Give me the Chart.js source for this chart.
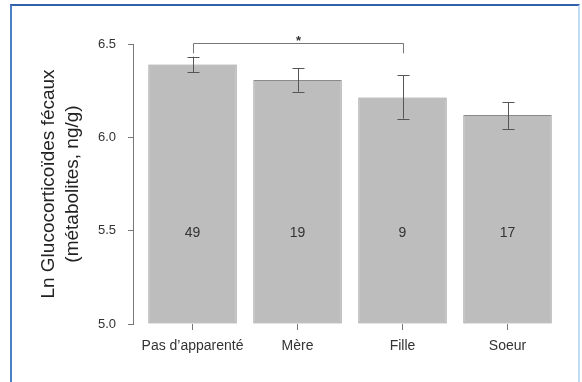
<!DOCTYPE html>
<html>
<head>
<meta charset="utf-8">
<script src="https://cdn.jsdelivr.net/npm/chart.js@4.4.1/dist/chart.umd.min.js"></script>
<style>
  html, body { margin: 0; padding: 0; background: #fff; }
  #wrap { position: relative; width: 582px; height: 382px; overflow: hidden; }
  #frame {
    position: absolute; left: 10px; top: 4px; width: 566px; height: 400px;
    border-top: 2px solid #2f62a8; border-left: 2px solid #4a7fc4; border-right: 2px solid #c4dcf2;
  }
  canvas { position: absolute; left: 0; top: 0; }
</style>
</head>
<body>
<div id="wrap">
  <div id="frame"></div>
  <canvas id="myChart" width="582" height="382"></canvas>
</div>
<script>
// data
const categories = ["Pas d\u2019apparenté", "Mère", "Fille", "Soeur"];
const means = [6.39, 6.307, 6.214, 6.119];
const errLow = [6.348, 6.244, 6.10, 6.045];
const errHigh = [6.432, 6.370, 6.334, 6.187];
const sampleSizes = [49, 19, 9, 17];
const yTicks = [5.0, 5.5, 6.0, 6.5];
// significance bracket between group 0 and group 2
const bracketFrom = 0;
const bracketTo = 2;
const bracketLevel = 6.505;
const bracketLegEnd = 6.45;

const FONT = "'Liberation Sans', Arial, sans-serif";

const extras = {
  id: "extras",
  afterDatasetsDraw(chart) {
    const ctx = chart.ctx;
    const x = chart.scales.x;
    const y = chart.scales.y;
    ctx.save();
    // error bars
    ctx.strokeStyle = "#555";
    ctx.lineWidth = 1;
    categories.forEach((c, i) => {
      const px = Math.round(x.getPixelForValue(i)) + 0.5;
      const top = y.getPixelForValue(errHigh[i]);
      const bot = y.getPixelForValue(errLow[i]);
      ctx.beginPath();
      ctx.moveTo(px, top); ctx.lineTo(px, bot);
      ctx.moveTo(px - 6, Math.round(top) + 0.5); ctx.lineTo(px + 6, Math.round(top) + 0.5);
      ctx.moveTo(px - 6, Math.round(bot) + 0.5); ctx.lineTo(px + 6, Math.round(bot) + 0.5);
      ctx.stroke();
    });
    // n labels
    ctx.fillStyle = "#333";
    ctx.font = "14px " + FONT;
    ctx.textAlign = "center";
    ctx.textBaseline = "middle";
    sampleSizes.forEach((n, i) => {
      ctx.fillText(String(n), x.getPixelForValue(i), y.getPixelForValue(5.5) + 2);
    });
    // bracket
    const x1 = Math.round(x.getPixelForValue(bracketFrom)) + 0.5;
    const x2 = Math.round(x.getPixelForValue(bracketTo)) + 0.5;
    const by = Math.round(y.getPixelForValue(bracketLevel)) + 0.5;
    const ly = y.getPixelForValue(bracketLegEnd);
    ctx.strokeStyle = "#777";
    ctx.beginPath();
    ctx.moveTo(x1, ly); ctx.lineTo(x1, by); ctx.lineTo(x2, by); ctx.lineTo(x2, ly);
    ctx.stroke();
    ctx.fillStyle = "#333";
    ctx.font = "bold 13px " + FONT;
    ctx.fillText("*", (x1 + x2) / 2, by - 2);
    ctx.restore();
  }
};

new Chart(document.getElementById("myChart"), {
  type: "bar",
  data: {
    datasets: [{
      data: means.map((v, i) => ({ x: i, y: v })),
      base: 5,
      backgroundColor: "#bdbdbd",
      borderColor: "#8a8a8a",
      borderWidth: 1,
      borderSkipped: false,
      categoryPercentage: 0.842,
      barPercentage: 1.0
    }]
  },
  options: {
    responsive: false,
    animation: false,
    layout: { padding: { left: 0, top: 44, right: 22, bottom: 0 } },
    plugins: { legend: { display: false }, tooltip: { enabled: false } },
    scales: {
      x: {
        type: "linear",
        offset: false,
        min: -0.567,
        max: 3.5,
        afterBuildTicks: (s) => { s.ticks = categories.map((c, i) => ({ value: i })); },
        afterFit: (s) => { s.height = 58; },
        border: { display: false },
        grid: { offset: false, drawOnChartArea: false, drawTicks: true, tickLength: 6, color: "#777" },
        ticks: {
          autoSkip: false, maxRotation: 0, padding: 8,
          color: "#333", font: { family: FONT, size: 14 },
          callback: (v) => categories[v]
        }
      },
      y: {
        min: 5.0,
        max: 6.5,
        afterBuildTicks: (s) => { s.ticks = yTicks.map((v) => ({ value: v })); },
        afterFit: (s) => { s.width = 133; },
        border: { display: true, color: "#777" },
        grid: { drawOnChartArea: false, drawTicks: true, tickLength: 5, color: "#777" },
        ticks: {
          padding: 12, color: "#333", font: { family: FONT, size: 13 },
          callback: (v) => v.toFixed(1)
        },
        title: {
          display: true,
          text: ["Ln Glucocorticoïdes fécaux", "(métabolites, ng/g)"],
          color: "#222",
          font: { family: FONT, size: 19, lineHeight: 1.25 },
          padding: { top: 37, bottom: 0 }
        }
      }
    }
  },
  plugins: [extras]
});
</script>
</body>
</html>
